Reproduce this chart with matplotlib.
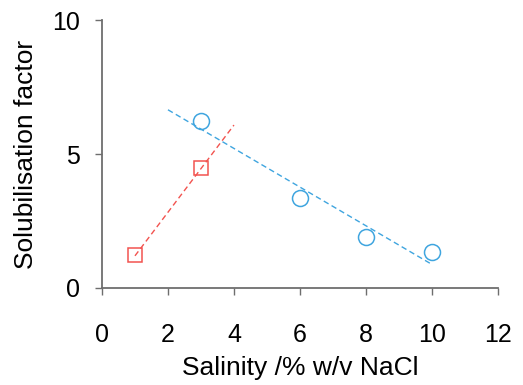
import matplotlib.pyplot as plt

plt.rcParams['font.family'] = ['Liberation Sans', 'DejaVu Sans']

# circles: higher salinity series
circle_x = [3, 6, 8, 10]
circle_y = [6.25, 3.37, 1.89, 1.33]
# squares: low salinity series
square_x = [1, 3]
square_y = [1.23, 4.49]

# trend line end points
blue_fit_x = [2, 10]
blue_fit_y = [6.65, 0.88]
red_fit_x = [1, 4]
red_fit_y = [1.2, 6.08]

x_ticks = [0, 2, 4, 6, 8, 10, 12]
y_ticks = [0, 5, 10]

blue = '#3FA5DF'
red = '#F2534F'
axis_grey = '#6E6E6E'

fig = plt.figure(figsize=(5.23, 3.85), dpi=100)
ax = fig.add_axes([0.195, 0.252, 0.757, 0.696])

ax.plot(blue_fit_x, blue_fit_y, color=blue, lw=1.0, dashes=(4, 2.5))
ax.plot(red_fit_x, red_fit_y, color=red, lw=1.0, dashes=(4, 2.5))
ax.plot(circle_x, circle_y, 'o', ms=11.5, mfc='none', mec=blue, mew=1.1)
ax.plot(square_x, square_y, 's', ms=10.5, mfc='none', mec=red, mew=1.1)

ax.set_xlim(0, 12)
ax.set_ylim(0, 10)
ax.set_xticks(x_ticks)
ax.set_yticks(y_ticks)

for side in ['top', 'right']:
    ax.spines[side].set_visible(False)
for side in ['left', 'bottom']:
    ax.spines[side].set_color(axis_grey)
    ax.spines[side].set_linewidth(1.3)

ax.tick_params(axis='both', direction='out', length=5, width=1.0,
               color=axis_grey, labelsize=18, labelcolor='black')
ax.tick_params(axis='x', pad=20)
ax.tick_params(axis='y', pad=11)

ax.set_xlabel('Salinity /% w/v NaCl', fontsize=19, labelpad=7)
ax.set_ylabel('Solubilisation factor', fontsize=19, labelpad=10)

fig.savefig('out.png', dpi=100)
